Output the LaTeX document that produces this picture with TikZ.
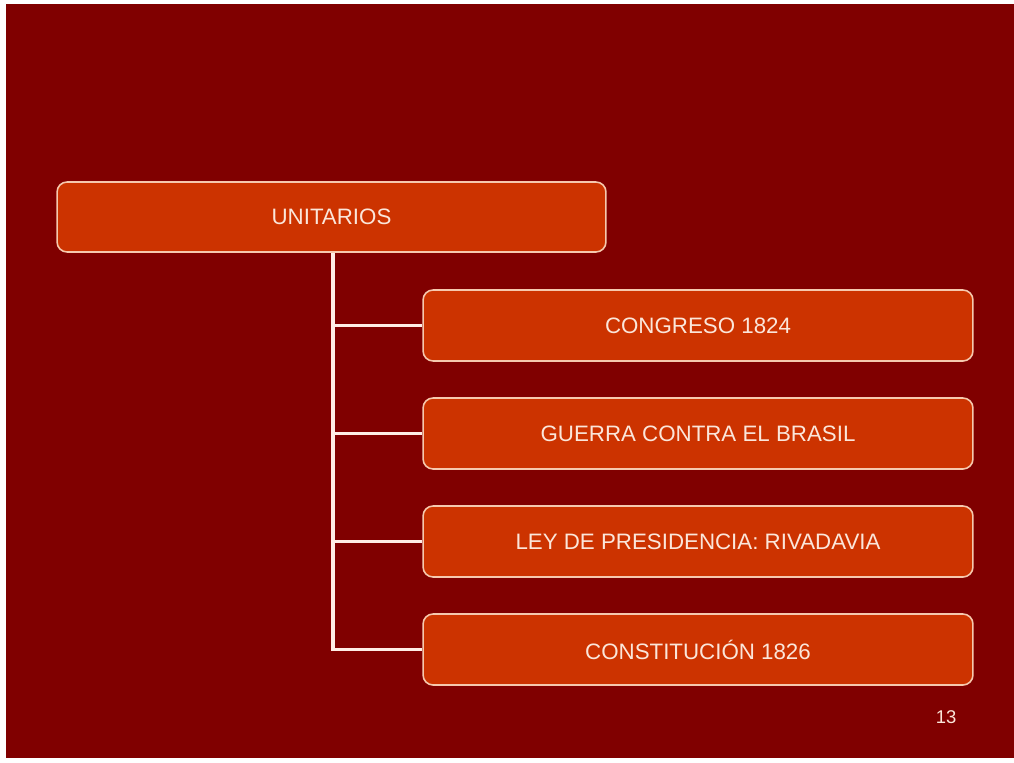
\documentclass[tikz,border=0pt]{standalone}
\usepackage{fontspec}
\setmainfont{Liberation Sans}
\usepackage{tikz}
\definecolor{slidebg}{HTML}{800000}
\definecolor{boxfill}{HTML}{CC3300}
\definecolor{boxline}{HTML}{F6C9AE}
\definecolor{linkcol}{HTML}{FFEDE6}
\definecolor{txtcol}{HTML}{FBE6DA}
\tikzset{
  topic/.style={draw=boxline, line width=0.9pt, fill=boxfill, rounded corners=0.2cm,
    text=txtcol, font=\fontsize{12.7}{15}\selectfont, inner sep=0pt},
  link/.style={draw=linkcol, line width=1.8pt}
}

\begin{document}
\begin{tikzpicture}[x=0.02cm, y=-0.02cm]
    \useasboundingbox (0,0) rectangle (1014,762);
    \fill [white] (0,0) rectangle (1014,762);
    \fill [slidebg] (6,4) rectangle (1014,758);
    \node [topic, minimum width=10.98cm, minimum height=1.4cm] (unit) at (331.5,217) {UNITARIOS};
    \node [topic, minimum width=11cm, minimum height=1.42cm] (cong) at (698,325.5) {CONGRESO 1824};
    \node [topic, minimum width=11cm, minimum height=1.42cm] (guer) at (698,433.5) {GUERRA CONTRA EL BRASIL};
    \node [topic, minimum width=11cm, minimum height=1.42cm] (ley) at (698,541.5) {LEY DE PRESIDENCIA: RIVADAVIA};
    \node [topic, minimum width=11cm, minimum height=1.42cm] (const) at (698,649.5) {CONSTITUCIÓN 1826};
    \coordinate (trunk) at (333,0);
    \draw [link] (unit.south -| trunk) -- (const.west -| trunk) -- (const.west);
    \draw [link] (cong.west -| trunk) -- (cong.west);
    \draw [link] (guer.west -| trunk) -- (guer.west);
    \draw [link] (ley.west -| trunk) -- (ley.west);
    \node [text=txtcol, font=\fontsize{10.5}{12}\selectfont] (page) at (946,717) {13};
\end{tikzpicture}
\end{document}
